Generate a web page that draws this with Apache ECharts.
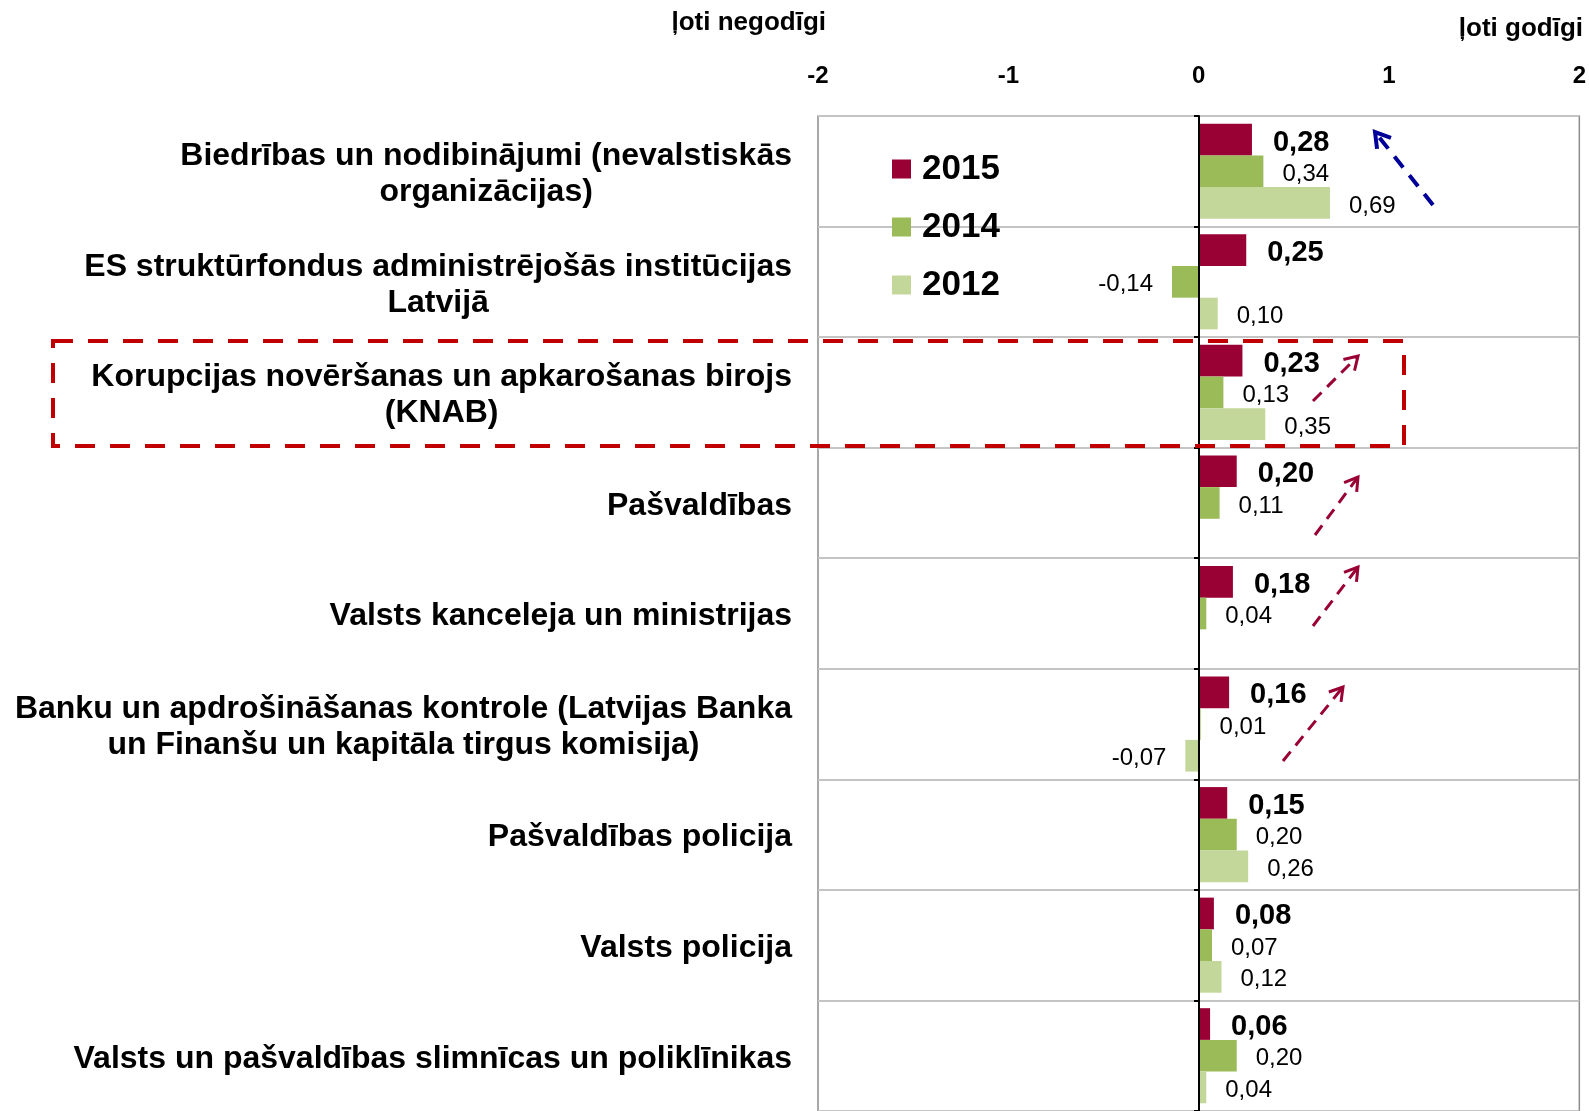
<!DOCTYPE html>
<html>
<head>
<meta charset="utf-8">
<script src="https://cdn.jsdelivr.net/npm/echarts@6/dist/echarts.min.js"></script>
<style>
  html, body { margin: 0; padding: 0; background: #fff; }
  #chart { width: 1589px; height: 1111px; }
</style>
</head>
<body>
<div id="chart"></div>
<script>
const categories = [
  'Biedrības un nodibinājumi (nevalstiskās\norganizācijas)',
  'ES struktūrfondus administrējošās institūcijas\nLatvijā',
  'Korupcijas novēršanas un apkarošanas birojs\n(KNAB)',
  'Pašvaldības',
  'Valsts kanceleja un ministrijas',
  'Banku un apdrošināšanas kontrole (Latvijas Banka\nun Finanšu un kapitāla tirgus komisija)',
  'Pašvaldības policija',
  'Valsts policija',
  'Valsts un pašvaldības slimnīcas un poliklīnikas'
];
const years = ['2015', '2014', '2012'];
const values2015 = [0.28, 0.25, 0.23, 0.20, 0.18, 0.16, 0.15, 0.08, 0.06];
const values2014 = [0.34, -0.14, 0.13, 0.11, 0.04, 0.01, 0.20, 0.07, 0.20];
const values2012 = [0.69, 0.10, 0.35, null, null, -0.07, 0.26, 0.12, 0.04];
const xTicks = [-2, -1, 0, 1, 2];

const COLORS = ['#990033', '#9BBB59', '#C4D79B'];
const FONT = '"Liberation Sans", Arial, sans-serif';

// grid geometry: x from -2 to 2 spans 818..1580, so 0 sits at 1199
const GRID_LEFT = 818, GRID_WIDTH = 762;

const fmt = v => v.toFixed(2).replace('.', ',');

function barSeries(name, data, color, bold) {
  return {
    name, type: 'bar', yAxisIndex: 0, barGap: '0%', barCategoryGap: '14%',
    itemStyle: { color },
    data: data.map(v => v === null ? null : {
      value: v,
      label: { position: v < 0 ? 'left' : 'right' }
    }),
    label: {
      show: true, distance: bold ? 21 : 19, offset: [0, 3],
      fontFamily: FONT, fontSize: bold ? 29 : 24, fontWeight: bold ? 'bold' : 'normal', color: '#000',
      formatter: p => fmt(p.value)
    }
  };
}

function arrow(x1, y1, x2, y2, color, width, dash, head) {
  const a = Math.atan2(y2 - y1, x2 - x1);
  const spread = 0.55;
  const p1 = [x2 - head * Math.cos(a - spread), y2 - head * Math.sin(a - spread)];
  const p2 = [x2 - head * Math.cos(a + spread), y2 - head * Math.sin(a + spread)];
  return [
    { type: 'line', z: 50, shape: { x1, y1, x2, y2 }, style: { stroke: color, lineWidth: width, lineDash: dash } },
    { type: 'polyline', z: 50, shape: { points: [p1, [x2, y2], p2] }, style: { stroke: color, lineWidth: width, fill: null } }
  ];
}

const chart = echarts.init(document.getElementById('chart'));
chart.setOption({
  animation: false,
  backgroundColor: '#fff',
  grid: { left: GRID_LEFT, top: 116, width: GRID_WIDTH, height: 1000, show: true, borderColor: '#8c8c8c', borderWidth: 1.5, backgroundColor: 'transparent' },
  legend: {
    orient: 'vertical', left: 887, top: 146,
    data: years, icon: 'rect', itemWidth: 19, itemHeight: 19, itemGap: 22,
    textStyle: { fontFamily: FONT, fontSize: 35, fontWeight: 'bold', color: '#000', lineHeight: 36, padding: [0, 0, 0, 6] }
  },
  xAxis: {
    type: 'value', position: 'top', min: -2, max: 2, interval: 1,
    axisLine: { show: false }, axisTick: { show: false }, splitLine: { show: false },
    axisLabel: {
      fontFamily: FONT, fontSize: 24, fontWeight: 'bold', color: '#000', margin: 28,
      formatter: v => xTicks.includes(v) ? String(v) : ''
    }
  },
  yAxis: [
    {
      type: 'category', inverse: true, data: categories, position: 'left',
      axisLine: { show: false }, axisTick: { show: false },
      splitLine: { show: true, lineStyle: { color: '#c4c4c4', width: 2 } },
      axisLabel: {
        margin: 26, interval: 0, padding: [6, 0, 0, 0],
        formatter: v => v.split('\n').map(l => '{c|' + l + '}').join('\n'),
        rich: { c: { align: 'center', fontFamily: FONT, fontSize: 32, fontWeight: 'bold', color: '#000', lineHeight: 36 } }
      }
    },
    {
      // zero line with small ticks at the category boundaries
      type: 'category', inverse: true, data: categories, position: 'left',
      offset: -(GRID_WIDTH / 2), z: 5,
      axisLine: { show: true, onZero: false, lineStyle: { color: '#000', width: 2 } },
      axisTick: { show: true, length: 5, lineStyle: { color: '#000', width: 2 } },
      axisLabel: { show: false }, splitLine: { show: false }
    }
  ],
  series: [
    barSeries('2015', values2015, COLORS[0], true),
    barSeries('2014', values2014, COLORS[1], false),
    barSeries('2012', values2012, COLORS[2], false)
  ],
  graphic: [
    { type: 'text', right: 1589 - 826, top: 10, style: { text: 'ļoti negodīgi', fontFamily: FONT, fontSize: 26, fontWeight: 'bold', fill: '#000' } },
    { type: 'text', right: 6, top: 16, style: { text: 'ļoti godīgi', fontFamily: FONT, fontSize: 26, fontWeight: 'bold', fill: '#000' } },
    { type: 'rect', z: 40, shape: { x: 53, y: 341, width: 1351, height: 105 }, style: { fill: null, stroke: '#C00000', lineWidth: 4, lineDash: [20, 15] } },
    ...arrow(1433, 205, 1375, 132, '#000099', 4, [14, 10], 17),
    ...arrow(1313, 401, 1358, 356, '#990033', 3, [12, 8], 15),
    ...arrow(1315, 535, 1358, 477, '#990033', 3, [12, 8], 15),
    ...arrow(1313, 626, 1358, 567, '#990033', 3, [12, 8], 15),
    ...arrow(1283, 761, 1343, 687, '#990033', 3, [12, 8], 15)
  ]
});
</script>
</body>
</html>
